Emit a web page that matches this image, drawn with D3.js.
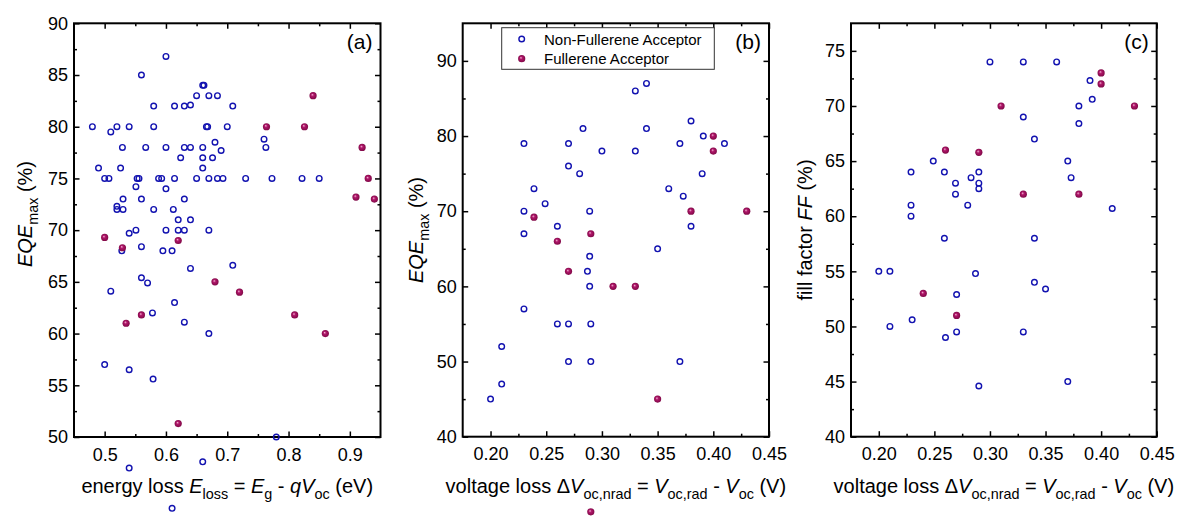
<!DOCTYPE html>
<html>
<head>
<meta charset="utf-8">
<script src="https://cdn.jsdelivr.net/npm/d3@7"></script>
<style>
  body { margin: 0; background: #fff; }
  svg { display: block; font-family: "Liberation Sans", Arial, sans-serif; }
  text { white-space: pre; }
</style>
</head>
<body>
<svg width="1177" height="518"></svg>
<script>
// panel (a): EQEmax vs energy loss
let aNfa = [
  [0.48, 80], [0.49, 76], [0.50, 75], [0.507, 75], [0.51, 79.5], [0.52, 80], [0.526, 76], [0.529, 78],
  [0.52, 72.3], [0.52, 72], [0.53, 72], [0.53, 73], [0.54, 80], [0.54, 69.7], [0.551, 70], [0.551, 74.2],
  [0.553, 75], [0.556, 75], [0.56, 85], [0.56, 73], [0.567, 78], [0.58, 82], [0.58, 80], [0.58, 72],
  [0.588, 75], [0.593, 75], [0.60, 86.8], [0.60, 78], [0.60, 74], [0.60, 70], [0.614, 82], [0.614, 75],
  [0.612, 72], [0.62, 71], [0.62, 70], [0.63, 70], [0.624, 77], [0.63, 78], [0.64, 78], [0.63, 82],
  [0.64, 82.1], [0.63, 73], [0.64, 71], [0.65, 75], [0.65, 83], [0.66, 84], [0.662, 84], [0.67, 83],
  [0.684, 83], [0.709, 82], [0.666, 80], [0.668, 80], [0.70, 80], [0.76, 78.8], [0.763, 78], [0.66, 78],
  [0.68, 78.5], [0.69, 77.7], [0.66, 77], [0.676, 77], [0.66, 76], [0.67, 75], [0.684, 75], [0.693, 75],
  [0.73, 75], [0.773, 75], [0.822, 75], [0.85, 75], [0.67, 70], [0.528, 68], [0.56, 68.4], [0.595, 68],
  [0.61, 68], [0.64, 66.3], [0.56, 65.4], [0.57, 64.9], [0.51, 64.1], [0.614, 63], [0.578, 62], [0.63, 61.1],
  [0.50, 57], [0.54, 56.5], [0.579, 55.6], [0.54, 47], [0.61, 43.1], [0.66, 47.6], [0.709, 66.6], [0.67, 60],
  [0.78, 50]
];
let aFa = [
  [0.50, 69.3], [0.529, 68.3], [0.62, 69], [0.56, 61.8], [0.535, 61], [0.62, 51.3], [0.68, 65], [0.72, 64],
  [0.81, 61.8], [0.86, 60], [0.84, 83], [0.764, 80], [0.826, 80], [0.92, 78], [0.93, 75], [0.91, 73.2], [0.94, 73]
];

// panel (b): EQEmax vs non-radiative voltage loss
let bNfa = [
  [0.23, 79], [0.239, 73], [0.249, 71], [0.23, 70], [0.23, 67], [0.26, 68], [0.27, 79], [0.27, 76],
  [0.28, 75], [0.283, 81], [0.289, 70], [0.289, 64], [0.33, 86], [0.34, 87], [0.34, 81], [0.30, 78],
  [0.33, 78], [0.38, 82], [0.37, 79], [0.391, 80], [0.41, 79], [0.39, 75], [0.36, 73], [0.373, 72],
  [0.38, 68], [0.35, 65], [0.287, 62], [0.289, 60], [0.23, 57], [0.26, 55], [0.27, 55], [0.29, 55],
  [0.21, 52], [0.27, 50], [0.29, 50], [0.21, 47], [0.20, 45], [0.37, 50]
];
let bFa = [
  [0.239, 69.2], [0.26, 66], [0.29, 67], [0.27, 62], [0.40, 80], [0.40, 78], [0.38, 70], [0.43, 70],
  [0.31, 60], [0.33, 60], [0.35, 45], [0.29, 30]
];

// panel (c): fill factor vs non-radiative voltage loss
let cNfa = [
  [0.249, 65], [0.229, 64], [0.259, 64], [0.269, 63], [0.269, 62], [0.283, 63.5], [0.28, 61], [0.229, 61],
  [0.229, 60], [0.259, 58], [0.29, 64], [0.29, 63], [0.29, 62.5], [0.30, 74], [0.33, 74], [0.36, 74],
  [0.39, 72.3], [0.392, 70.6], [0.38, 70], [0.38, 68.4], [0.33, 69], [0.34, 67], [0.37, 65], [0.373, 63.5],
  [0.41, 60.7], [0.34, 58], [0.20, 55], [0.21, 55], [0.287, 54.8], [0.27, 52.9], [0.21, 50], [0.23, 50.6],
  [0.26, 49], [0.27, 49.5], [0.29, 44.6], [0.34, 54], [0.35, 53.4], [0.33, 49.5], [0.37, 45]
];
let cFa = [
  [0.26, 66], [0.29, 65.8], [0.40, 73], [0.40, 72], [0.31, 70], [0.43, 70], [0.33, 62], [0.38, 62],
  [0.24, 53], [0.27, 51]
];

// ticks
let aXTicks = [0.5, 0.6, 0.7, 0.8, 0.9];
let aXMinor = [0.55, 0.65, 0.75, 0.85];
let aYTicks = [50, 55, 60, 65, 70, 75, 80, 85, 90];
let aYMinor = [52.5, 57.5, 62.5, 67.5, 72.5, 77.5, 82.5, 87.5];
let bXTicks = [0.20, 0.25, 0.30, 0.35, 0.40, 0.45];
let bXMinor = [0.225, 0.275, 0.325, 0.375, 0.425];
let bYTicks = [40, 50, 60, 70, 80, 90];
let bYMinor = [45, 55, 65, 75, 85];
let cXTicks = [0.20, 0.25, 0.30, 0.35, 0.40, 0.45];
let cXMinor = [0.225, 0.275, 0.325, 0.375, 0.425];
let cYTicks = [40, 45, 50, 55, 60, 65, 70, 75];
let cYMinor = [42.5, 47.5, 52.5, 57.5, 62.5, 67.5, 72.5];

// labels
let legendNames = ['Non-Fullerene Acceptor', 'Fullerene Acceptor'];
let aXTitle = [['energy loss '], ['E', 'i'], ['loss', 'sub'], [' = '], ['E', 'i'], ['g', 'sub'], [' - '], ['qV', 'i'], ['oc', 'sub'], [' (eV)']];
let vXTitle = [['voltage loss Δ'], ['V', 'i'], ['oc,nrad', 'sub'], [' = '], ['V', 'i'], ['oc,rad', 'sub'], [' - '], ['V', 'i'], ['oc', 'sub'], [' (V)']];
let eqeTitle = [['EQE', 'i'], ['max', 'sub'], [' (%)']];
let ffTitle = [['fill factor '], ['FF', 'i'], [' (%)']];

let blue = '#1212b0';

let svg = d3.select('svg');

let defs = svg.append('defs');
let grad = defs.append('radialGradient')
  .attr('id', 'ball')
  .attr('cx', '50%').attr('cy', '50%').attr('r', '55%')
  .attr('fx', '38%').attr('fy', '35%');
grad.append('stop').attr('offset', '0%').attr('stop-color', '#f2b4d2');
grad.append('stop').attr('offset', '35%').attr('stop-color', '#b0176a');
grad.append('stop').attr('offset', '100%').attr('stop-color', '#7a0642');

function rich(sel, segs, size) {
  let shift = 0;
  segs.forEach(([t, st]) => {
    let sub = st === 'sub';
    let target = sub ? size * 0.32 : 0;
    let ts = sel.append('tspan')
      .text(t)
      .attr('dy', target - shift)
      .attr('font-size', sub ? size * 0.72 : size);
    if (st === 'i') ts.attr('font-style', 'italic');
    shift = target;
  });
}

let panels = [
  { tag: '(a)', left: 74, right: 380.5, top: 23.3, bottom: 437, xDom: [0.45, 0.95], yDom: [50, 90],
    xTicks: aXTicks, xMinor: aXMinor, yTicks: aYTicks, yMinor: aYMinor, xFmt: '.1f',
    nfa: aNfa, fa: aFa, xTitle: aXTitle, yTitle: eqeTitle, yTitleX: 32, yTitleY: 214 },
  { tag: '(b)', left: 462.7, right: 769, top: 23.3, bottom: 436.7, xDom: [0.175, 0.45], yDom: [40, 95],
    xTicks: bXTicks, xMinor: bXMinor, yTicks: bYTicks, yMinor: bYMinor, xFmt: '.2f',
    nfa: bNfa, fa: bFa, xTitle: vXTitle, yTitle: eqeTitle, yTitleX: 423, yTitleY: 230, legend: true },
  { tag: '(c)', left: 851, right: 1156.7, top: 23.3, bottom: 436.7, xDom: [0.175, 0.45], yDom: [40, 77.5],
    xTicks: cXTicks, xMinor: cXMinor, yTicks: cYTicks, yMinor: cYMinor, xFmt: '.2f',
    nfa: cNfa, fa: cFa, xTitle: vXTitle, yTitle: ffTitle, yTitleX: 812, yTitleY: 230 },
];

panels.forEach((p) => {
  let x = d3.scaleLinear().domain(p.xDom).range([p.left, p.right]);
  let y = d3.scaleLinear().domain(p.yDom).range([p.bottom, p.top]);
  let g = svg.append('g');

  let axes = [
    [d3.axisBottom(x).tickValues(p.xTicks).tickFormat(d3.format(p.xFmt)), `translate(0,${p.bottom})`],
    [d3.axisLeft(y).tickValues(p.yTicks).tickFormat(d3.format('d')), `translate(${p.left},0)`],
    [d3.axisTop(x).tickValues(p.xTicks).tickFormat(''), `translate(0,${p.top})`],
    [d3.axisRight(y).tickValues(p.yTicks).tickFormat(''), `translate(${p.right},0)`],
  ];
  axes.forEach(([ax, tr]) => {
    let isX = ax.scale() === x;
    ax.tickSize(-5.5).tickPadding(isX ? 11 : 6);
    let a = g.append('g').attr('transform', tr).call(ax);
    a.select('.domain').remove();
    a.selectAll('line').attr('stroke-width', 1.5);
    a.selectAll('text').attr('font-size', 18).attr('fill', '#000').attr('font-family', null);
  });
  let minors = [
    [d3.axisBottom(x).tickValues(p.xMinor), `translate(0,${p.bottom})`],
    [d3.axisTop(x).tickValues(p.xMinor), `translate(0,${p.top})`],
    [d3.axisLeft(y).tickValues(p.yMinor), `translate(${p.left},0)`],
    [d3.axisRight(y).tickValues(p.yMinor), `translate(${p.right},0)`],
  ];
  minors.forEach(([ax, tr]) => {
    let a = g.append('g').attr('transform', tr).call(ax.tickSize(-3).tickFormat(''));
    a.select('.domain').remove();
    a.selectAll('line').attr('stroke-width', 1.5);
  });

  g.append('rect')
    .attr('x', p.left).attr('y', p.top)
    .attr('width', p.right - p.left).attr('height', p.bottom - p.top)
    .attr('fill', 'none').attr('stroke', '#000').attr('stroke-width', 2);

  g.append('g').selectAll('circle')
    .data(p.nfa)
    .enter()
    .append('circle')
    .attr('cx', (d) => x(d[0]))
    .attr('cy', (d) => y(d[1]))
    .attr('r', 2.8)
    .attr('fill', 'none')
    .attr('stroke', blue)
    .attr('stroke-width', 1.4);

  g.append('g').selectAll('circle')
    .data(p.fa)
    .enter()
    .append('circle')
    .attr('cx', (d) => x(d[0]))
    .attr('cy', (d) => y(d[1]))
    .attr('r', 3.6)
    .attr('fill', 'url(#ball)');

  g.append('text')
    .attr('x', p.right - 8).attr('y', 49)
    .attr('text-anchor', 'end')
    .attr('font-size', 21)
    .text(p.tag);

  let xt = g.append('text')
    .attr('x', (p.left + p.right) / 2).attr('y', 493)
    .attr('text-anchor', 'middle');
  rich(xt, p.xTitle, 20);

  let yt = g.append('text')
    .attr('transform', `translate(${p.yTitleX},${p.yTitleY}) rotate(-90)`)
    .attr('text-anchor', 'middle');
  rich(yt, p.yTitle, 20);

  if (p.legend) {
    let lg = g.append('g');
    lg.append('rect')
      .attr('x', 501.7).attr('y', 27.7).attr('width', 212.6).attr('height', 41.6)
      .attr('fill', '#fff').attr('stroke', '#333').attr('stroke-width', 1);
    legendNames.forEach((name, i) => {
      let cy = 39 + i * 19.7;
      let c = lg.append('circle').attr('cx', 521.7).attr('cy', cy);
      if (i === 0) c.attr('r', 2.8).attr('fill', 'none').attr('stroke', blue).attr('stroke-width', 1.4);
      else c.attr('r', 3.6).attr('fill', 'url(#ball)');
      lg.append('text').attr('x', 544).attr('y', cy + 5.5).attr('font-size', 15).text(name);
    });
  }
});
</script>
</body>
</html>
